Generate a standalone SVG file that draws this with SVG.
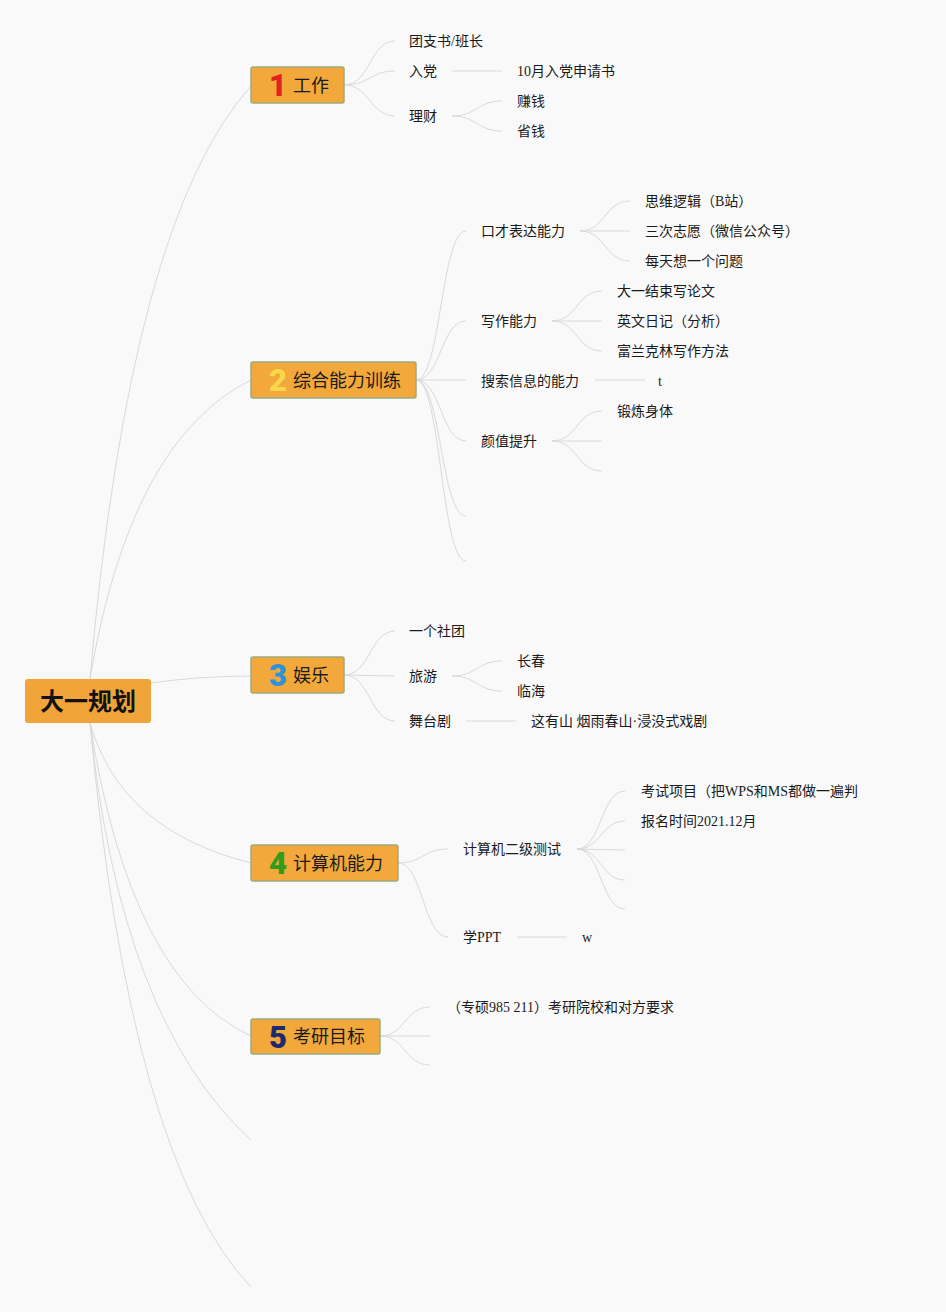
<svg xmlns="http://www.w3.org/2000/svg" width="946" height="1312" viewBox="0 0 946 1312">
<style>
.bg{fill:#f9f9f9}
.c{fill:none;stroke:#d9d9d9;stroke-width:1}
.box{fill:#f2a83a;stroke:#9dab7e;stroke-width:1.5}
.root{fill:#f0a43a}
.rt{font-family:"Noto Sans CJK SC","Noto Sans",sans-serif;font-size:24px;font-weight:bold;fill:#111;text-anchor:middle}
.nt{font-family:"Noto Sans CJK SC","Noto Sans",sans-serif;font-size:18px;fill:#1a1a1a}
.num{font-family:"Roboto","Noto Sans",sans-serif;font-size:31px;font-weight:900;text-anchor:middle}
.t{font-family:"Liberation Serif","Noto Sans CJK SC",serif;font-size:14px;fill:#1a1a1a}
</style>
<rect class="bg" x="0" y="0" width="946" height="1312"/>
<g id="connectors">
<!-- root to main -->
<path class="c" d="M90,679 Q130,220 251,86"/>
<path class="c" d="M90,679 Q130,440 251,380"/>
<path class="c" d="M151,683 Q200,676 251,676"/>
<path class="c" d="M90,723 Q120,830 251,863"/>
<path class="c" d="M90,723 Q130,980 251,1036"/>
<path class="c" d="M90,723 Q120,1020 251,1140"/>
<path class="c" d="M90,723 Q130,1160 251,1287"/>
<!-- node 1 -->
<path class="c" d="M344,85 C370,85 370,41 395,41"/>
<path class="c" d="M344,85 C370,85 370,71 395,71"/>
<path class="c" d="M344,85 C370,85 370,116 395,116"/>
<path class="c" d="M452,71 L502,71"/>
<path class="c" d="M452,116 C477,116 477,101 502,101"/>
<path class="c" d="M452,116 C477,116 477,131 502,131"/>
<!-- node 2 -->
<path class="c" d="M416,380 C441,380 441,231 466,231"/>
<path class="c" d="M416,380 C441,380 441,321 466,321"/>
<path class="c" d="M416,380 L466,380"/>
<path class="c" d="M416,380 C441,380 441,441 466,441"/>
<path class="c" d="M416,380 C441,380 441,516 466,516"/>
<path class="c" d="M416,380 C441,380 441,561 466,561"/>
<path class="c" d="M580,231 C605,231 605,201 630,201"/>
<path class="c" d="M580,231 L630,231"/>
<path class="c" d="M580,231 C605,231 605,261 630,261"/>
<path class="c" d="M552,321 C577,321 577,291 602,291"/>
<path class="c" d="M552,321 L602,321"/>
<path class="c" d="M552,321 C577,321 577,351 602,351"/>
<path class="c" d="M595,380 L645,380"/>
<path class="c" d="M552,441 C577,441 577,411 602,411"/>
<path class="c" d="M552,441 L602,441"/>
<path class="c" d="M552,441 C577,441 577,471 602,471"/>
<!-- node 3 -->
<path class="c" d="M344,675 C370,675 370,631 395,631"/>
<path class="c" d="M344,675 L395,676"/>
<path class="c" d="M344,675 C370,675 370,721 395,721"/>
<path class="c" d="M452,676 C477,676 477,661 502,661"/>
<path class="c" d="M452,676 C477,676 477,691 502,691"/>
<path class="c" d="M466,721 L516,721"/>
<!-- node 4 -->
<path class="c" d="M398,863 C423,863 423,849 448,849"/>
<path class="c" d="M398,863 C423,863 423,937 448,937"/>
<path class="c" d="M577,849 C601,849 601,791 625,791"/>
<path class="c" d="M577,849 C601,849 601,821 625,821"/>
<path class="c" d="M577,849 L625,850"/>
<path class="c" d="M577,849 C601,849 601,880 625,880"/>
<path class="c" d="M577,849 C601,849 601,909 625,909"/>
<path class="c" d="M517,937 L567,937"/>
<!-- node 5 -->
<path class="c" d="M380,1036 C405,1036 405,1007 430,1007"/>
<path class="c" d="M380,1036 L430,1036"/>
<path class="c" d="M380,1036 C405,1036 405,1065 430,1065"/>
</g>
<g id="root">
<rect class="root" x="25" y="679" width="126" height="44" rx="3"/>
<text class="rt" x="88" y="710">大一规划</text>
</g>
<g id="n1">
<rect class="box" x="251" y="67" width="93" height="36" rx="2"/>
<text class="num" x="278" y="96" fill="#e02222">1</text>
<text class="nt" x="293" y="92">工作</text>
</g>
<g id="n2">
<rect class="box" x="251" y="362" width="165" height="36" rx="2"/>
<text class="num" x="278" y="391" fill="#f7d84a">2</text>
<text class="nt" x="293" y="387">综合能力训练</text>
</g>
<g id="n3">
<rect class="box" x="251" y="657" width="93" height="36" rx="2"/>
<text class="num" x="278" y="686" fill="#2b93d6">3</text>
<text class="nt" x="293" y="682">娱乐</text>
</g>
<g id="n4">
<rect class="box" x="251" y="845" width="147" height="36" rx="2"/>
<text class="num" x="278" y="874" fill="#2f9e1c">4</text>
<text class="nt" x="293" y="870">计算机能力</text>
</g>
<g id="n5">
<rect class="box" x="251" y="1019" width="129" height="35" rx="2"/>
<text class="num" x="278" y="1048" fill="#1e2a6e">5</text>
<text class="nt" x="293" y="1043">考研目标</text>
</g>
<g id="leaves1">
<text class="t" x="409" y="46">团支书/班长</text>
<text class="t" x="409" y="76">入党</text>
<text class="t" x="517" y="76">10月入党申请书</text>
<text class="t" x="409" y="121">理财</text>
<text class="t" x="517" y="106">赚钱</text>
<text class="t" x="517" y="136">省钱</text>
</g>
<g id="leaves2">
<text class="t" x="481" y="236">口才表达能力</text>
<text class="t" x="645" y="206">思维逻辑（B站）</text>
<text class="t" x="645" y="236">三次志愿（微信公众号）</text>
<text class="t" x="645" y="266">每天想一个问题</text>
<text class="t" x="481" y="326">写作能力</text>
<text class="t" x="617" y="296">大一结束写论文</text>
<text class="t" x="617" y="326">英文日记（分析）</text>
<text class="t" x="617" y="356">富兰克林写作方法</text>
<text class="t" x="481" y="386">搜索信息的能力</text>
<text class="t" x="658" y="386">t</text>
<text class="t" x="481" y="446">颜值提升</text>
<text class="t" x="617" y="416">锻炼身体</text>
</g>
<g id="leaves3">
<text class="t" x="409" y="636">一个社团</text>
<text class="t" x="409" y="681">旅游</text>
<text class="t" x="517" y="666">长春</text>
<text class="t" x="517" y="696">临海</text>
<text class="t" x="409" y="726">舞台剧</text>
<text class="t" x="531" y="726">这有山 烟雨春山·浸没式戏剧</text>
</g>
<g id="leaves4">
<text class="t" x="463" y="854">计算机二级测试</text>
<text class="t" x="641" y="796">考试项目（把WPS和MS都做一遍判</text>
<text class="t" x="641" y="826">报名时间2021.12月</text>
<text class="t" x="463" y="942">学PPT</text>
<text class="t" x="582" y="942">w</text>
</g>
<g id="leaves5">
<text class="t" x="447" y="1012">（专硕985 211）考研院校和对方要求</text>
</g>
</svg>
